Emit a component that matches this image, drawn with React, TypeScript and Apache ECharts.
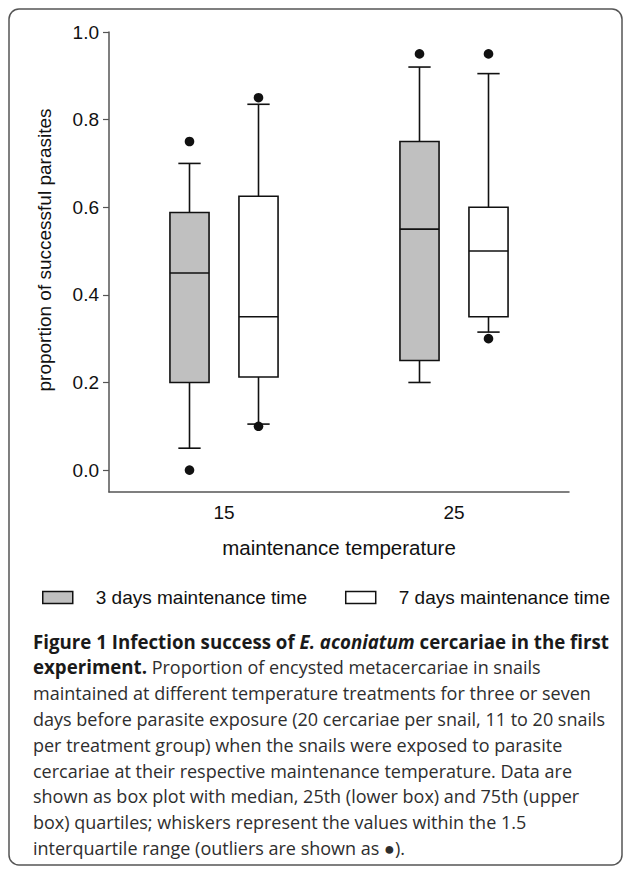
import React, { useEffect, useRef } from 'react';
import * as echarts from 'echarts';

const categories = ['15', '25'];
const seriesNames = ['3 days maintenance time', '7 days maintenance time'];
// per category: [lower whisker, Q1, median, Q3, upper whisker]
const boxes3Days = [
  [0.05, 0.2, 0.45, 0.588, 0.7],
  [0.2, 0.25, 0.55, 0.75, 0.92],
];
const boxes7Days = [
  [0.105, 0.2125, 0.35, 0.625, 0.835],
  [0.315, 0.35, 0.5, 0.6, 0.905],
];
// outliers: [category index, value]
const outliers3Days = [
  [0, 0.75],
  [0, 0.0],
  [1, 0.95],
];
const outliers7Days = [
  [0, 0.85],
  [0, 0.1],
  [1, 0.95],
  [1, 0.3],
];
const yTickValues = [0, 0.2, 0.4, 0.6, 0.8, 1.0];
const yTitle = 'proportion of successful parasites';
const xTitle = 'maintenance temperature';
const captionLines = [
  '{b|Figure 1 Infection success of }{bi|E. aconiatum}{b| cercariae in the first}',
  '{b|experiment.}{r| Proportion of encysted metacercariae in snails}',
  '{r|maintained at different temperature treatments for three or seven}',
  '{r|days before parasite exposure (20 cercariae per snail, 11 to 20 snails}',
  '{r|per treatment group) when the snails were exposed to parasite}',
  '{r|cercariae at their respective maintenance temperature. Data are}',
  '{r|shown as box plot with median, 25th (lower box) and 75th (upper}',
  '{r|box) quartiles; whiskers represent the values within the 1.5}',
  '{r|interquartile range (outliers are shown as \u25CF).}',
];

const FONT = 'Liberation Sans, Arial, sans-serif';
const CAP_FONT = 'Open Sans, Noto Sans, sans-serif';
const CAP_SIZE = 18;
const CAP_BOLD_SIZE = 18.7;
const INK = '#111';
const GRAY = '#c0c0c0';

function boxRenderer(offsetFrac: number, fill: string) {
  return (params: any, api: any) => {
    const cat = api.value(0);
    const band = api.size([1, 0])[0];
    const cx = api.coord([cat, 0])[0] + offsetFrac * band;
    const bw = band * 0.17;
    const cw = band * 0.097;
    const yLow = api.coord([cat, api.value(1)])[1];
    const yQ1 = api.coord([cat, api.value(2)])[1];
    const yMed = api.coord([cat, api.value(3)])[1];
    const yQ3 = api.coord([cat, api.value(4)])[1];
    const yHigh = api.coord([cat, api.value(5)])[1];
    const ls = { stroke: INK, lineWidth: 1.6 };
    return {
      type: 'group',
      children: [
        { type: 'line', shape: { x1: cx, y1: yQ3, x2: cx, y2: yHigh }, style: ls },
        { type: 'line', shape: { x1: cx, y1: yQ1, x2: cx, y2: yLow }, style: ls },
        { type: 'line', shape: { x1: cx - cw / 2, y1: yHigh, x2: cx + cw / 2, y2: yHigh }, style: ls },
        { type: 'line', shape: { x1: cx - cw / 2, y1: yLow, x2: cx + cw / 2, y2: yLow }, style: ls },
        {
          type: 'rect',
          shape: { x: cx - bw / 2, y: yQ3, width: bw, height: yQ1 - yQ3 },
          style: { fill, stroke: INK, lineWidth: 1.6 },
        },
        { type: 'line', shape: { x1: cx - bw / 2, y1: yMed, x2: cx + bw / 2, y2: yMed }, style: ls },
      ],
    };
  };
}

function outlierRenderer(offsetFrac: number) {
  return (params: any, api: any) => {
    const cat = api.value(0);
    const band = api.size([1, 0])[0];
    const p = api.coord([cat, api.value(1)]);
    return {
      type: 'circle',
      shape: { cx: p[0] + offsetFrac * band, cy: p[1], r: 4.8 },
      style: { fill: INK },
    };
  };
}

export default function App() {
  const ref = useRef<HTMLDivElement>(null);
  useEffect(() => {
    document.body.style.margin = '0';
    const chart = echarts.init(ref.current!, null, { renderer: 'svg' });
    const boxData = (arr: number[][]) => arr.map((b, i) => [i, ...b]);
    const lineGraphics = captionLines.map((t, i) => ({
      type: 'text',
      x: 33,
      y: 641 + i * 25.9,
      style: {
        text: t,
        verticalAlign: 'middle',
        fill: '#2a2a2a',
        rich: {
          b: { fontFamily: CAP_FONT, fontSize: CAP_BOLD_SIZE, fontWeight: 'bold', fill: '#1a1a1a' },
          bi: { fontFamily: CAP_FONT, fontSize: CAP_BOLD_SIZE, fontWeight: 'bold', fontStyle: 'italic', fill: '#1a1a1a' },
          r: { fontFamily: CAP_FONT, fontSize: CAP_SIZE, fill: '#2e2e2e' },
        },
      },
    }));
    chart.setOption({
      animation: false,
      backgroundColor: '#fff',
      grid: { left: 109, right: 58, top: 32, bottom: 377 },
      xAxis: {
        type: 'category',
        data: categories,
        name: xTitle,
        nameLocation: 'middle',
        nameGap: 45,
        nameTextStyle: { fontFamily: FONT, fontSize: 20.5, color: INK },
        axisLine: { onZero: false, lineStyle: { color: '#555', width: 1.5 } },
        axisTick: { inside: true, alignWithLabel: true, length: 5, lineStyle: { color: '#555', width: 1.2 } },
        axisLabel: { fontFamily: FONT, fontSize: 19, color: INK, margin: 11 },
        splitLine: { show: false },
      },
      yAxis: {
        type: 'value',
        min: -0.05,
        max: 1.0,
        name: yTitle,
        nameLocation: 'middle',
        nameGap: 55,
        nameTextStyle: { fontFamily: FONT, fontSize: 19, color: INK, padding: [0, 0, 0, 24] },
        axisLine: { show: true, lineStyle: { color: '#555', width: 1.5 } },
        axisTick: { show: true, length: 6, customValues: yTickValues, lineStyle: { color: '#555', width: 1.2 } },
        axisLabel: {
          fontFamily: FONT,
          fontSize: 19,
          color: INK,
          margin: 10,
          customValues: yTickValues,
          formatter: (v: number) => v.toFixed(1),
        },
        splitLine: { show: false },
      },
      legend: {
        left: 37,
        top: 583,
        itemWidth: 30,
        itemHeight: 12,
        itemGap: 38,
        selectedMode: false,
        textStyle: { fontFamily: FONT, fontSize: 19, color: INK, padding: [0, 0, 0, 18] },
        data: [
          { name: seriesNames[0], icon: 'rect', itemStyle: { color: GRAY, borderColor: INK, borderWidth: 1.5 } },
          { name: seriesNames[1], icon: 'rect', itemStyle: { color: '#fff', borderColor: INK, borderWidth: 1.5 } },
        ],
      },
      series: [
        {
          name: seriesNames[0],
          type: 'custom',
          renderItem: boxRenderer(-0.15, GRAY),
          encode: { x: 0, y: [1, 2, 3, 4, 5] },
          data: boxData(boxes3Days),
          itemStyle: { color: GRAY },
          z: 2,
        },
        {
          name: seriesNames[1],
          type: 'custom',
          renderItem: boxRenderer(0.15, '#fff'),
          encode: { x: 0, y: [1, 2, 3, 4, 5] },
          data: boxData(boxes7Days),
          itemStyle: { color: '#fff' },
          z: 2,
        },
        {
          name: 'outliers 3 days',
          type: 'custom',
          renderItem: outlierRenderer(-0.15),
          encode: { x: 0, y: 1 },
          data: outliers3Days,
          z: 3,
        },
        {
          name: 'outliers 7 days',
          type: 'custom',
          renderItem: outlierRenderer(0.15),
          encode: { x: 0, y: 1 },
          data: outliers7Days,
          z: 3,
        },
      ],
      graphic: [
        {
          type: 'rect',
          shape: { x: 9, y: 9, width: 613, height: 856, r: 10 },
          style: { fill: 'none', stroke: '#555', lineWidth: 1.5 },
          silent: true,
        },
        ...lineGraphics,
      ],
    });
    return () => chart.dispose();
  }, []);
  return <div ref={ref} style={{ width: 627, height: 869 }} />;
}
